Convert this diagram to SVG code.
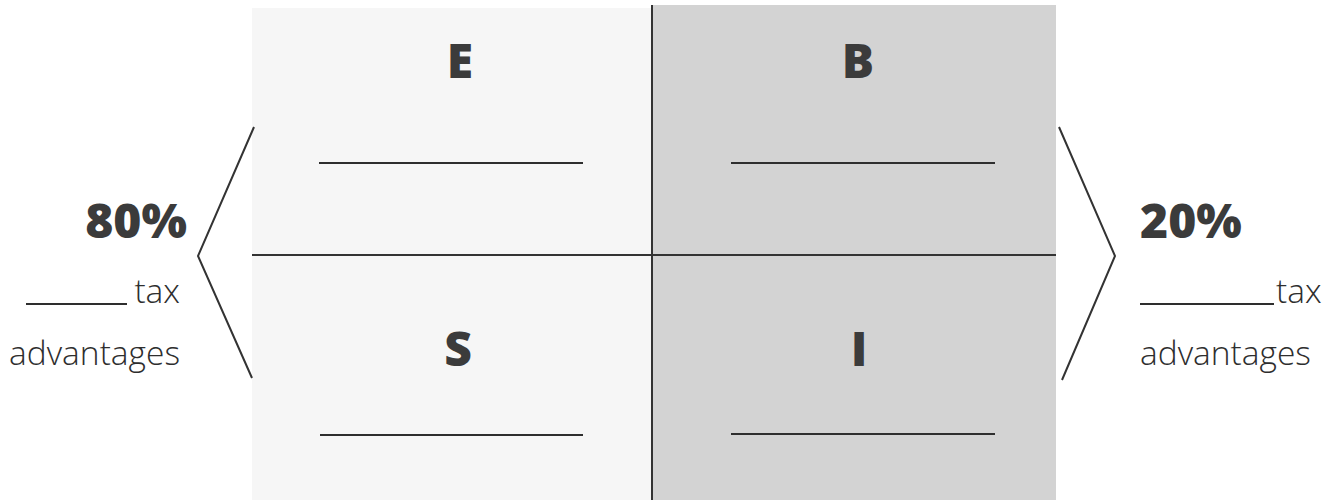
<svg xmlns="http://www.w3.org/2000/svg" width="1333" height="500" viewBox="0 0 1333 500">
  <style>
    .quad { font-family: "Open Sans", "Liberation Sans", sans-serif; font-weight: 800; font-size: 48px; fill: #3b3b3b; text-anchor: middle; }
    .pct { font-family: "Open Sans", "Liberation Sans", sans-serif; font-weight: 800; font-size: 48px; fill: #3b3b3b; }
    .lbl { font-family: "Open Sans", "Liberation Sans", sans-serif; font-weight: 300; font-size: 33.5px; fill: #2e2e2e; }
    .blank { stroke: #2e2e2e; stroke-width: 2.2; fill: none; }
    .grid { stroke: #333; stroke-width: 2; fill: none; }
    .bracket { stroke: #333; stroke-width: 2; fill: none; stroke-linejoin: miter; }
  </style>
  <rect width="1333" height="500" fill="#ffffff"/>
  <rect id="panel-left" x="252" y="8" width="400" height="492" fill="#f6f6f6"/>
  <rect id="panel-right" x="652" y="5" width="404" height="495" fill="#d3d3d3"/>

  <g id="connectors">
    <line class="grid" x1="652" y1="5" x2="652" y2="500"/>
    <line class="grid" x1="252" y1="255" x2="1056" y2="255"/>
    <polyline class="bracket" points="254,127 198,256 252,378"/>
    <polyline class="bracket" points="1059,127 1115,256 1062,380"/>
  </g>

  <g id="node-E">
    <text class="quad" x="460" y="78">E</text>
    <line class="blank" x1="319" y1="163" x2="583" y2="163"/>
  </g>
  <g id="node-B">
    <text class="quad" x="858" y="78">B</text>
    <line class="blank" x1="731" y1="163" x2="995" y2="163"/>
  </g>
  <g id="node-S">
    <text class="quad" x="458" y="366">S</text>
    <line class="blank" x1="320" y1="435" x2="583" y2="435"/>
  </g>
  <g id="node-I">
    <text class="quad" x="859" y="366">I</text>
    <line class="blank" x1="731" y1="434" x2="995" y2="434"/>
  </g>

  <g id="left-label">
    <text class="pct" x="187" y="238" text-anchor="end">80%</text>
    <line class="blank" x1="26" y1="304" x2="127" y2="304"/>
    <text class="lbl" x="180" y="303" text-anchor="end">tax</text>
    <text class="lbl" x="180" y="365" text-anchor="end">advantages</text>
  </g>
  <g id="right-label">
    <text class="pct" x="1140" y="238">20%</text>
    <line class="blank" x1="1140" y1="304" x2="1274" y2="304"/>
    <text class="lbl" x="1276" y="303">tax</text>
    <text class="lbl" x="1140" y="365">advantages</text>
  </g>
</svg>
